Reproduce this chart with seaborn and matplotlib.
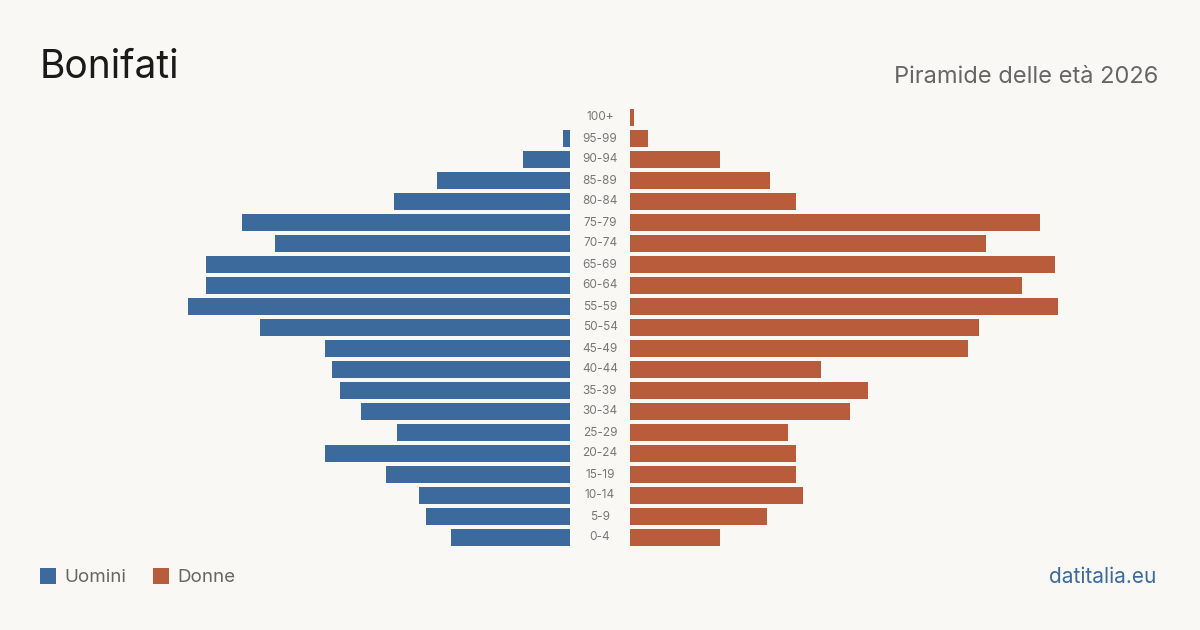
import matplotlib
matplotlib.use("Agg")
import matplotlib.pyplot as plt
import matplotlib.transforms as mtransforms
from matplotlib.patches import Rectangle
import seaborn as sns
import pandas as pd

# age classes, top to bottom
ages = ["100+", "95-99", "90-94", "85-89", "80-84", "75-79", "70-74", "65-69",
        "60-64", "55-59", "50-54", "45-49", "40-44", "35-39", "30-34", "25-29",
        "20-24", "15-19", "10-14", "5-9", "0-4"]
uomini = [0, 2, 13, 37, 49, 91, 82, 101, 101, 106, 86, 68, 66, 64, 58, 48, 68, 51, 42, 40, 33]
donne = [1, 5, 25, 39, 46, 114, 99, 118, 109, 119, 97, 94, 53, 66, 61, 44, 46, 46, 48, 38, 25]

title = "Bonifati"
subtitle = "Piramide delle età 2026"
source = "datitalia.eu"

BG = "#faf8f4"
BLUE = "#3c6a9c"
ORANGE = "#b95c3c"

sns.set_style("white")
plt.rcParams["font.family"] = ["Inter", "DejaVu Sans"]

df = pd.DataFrame({"age": ages, "uomini": uomini, "donne": donne})

fig = plt.figure(figsize=(12, 6.3), dpi=100, facecolor=BG)

W, H = 1200, 630
xmax = 440 / 3.6
ax_l = fig.add_axes([130 / W, 82 / H, 440 / W, 441 / H])
ax_r = fig.add_axes([630 / W, 82 / H, 440 / W, 441 / H])

sns.barplot(data=df, x="uomini", y="age", orient="h", color=BLUE, width=0.81,
            saturation=1, linewidth=0, ax=ax_l)
sns.barplot(data=df, x="donne", y="age", orient="h", color=ORANGE, width=0.81,
            saturation=1, linewidth=0, ax=ax_r)

ax_l.set_xlim(xmax, 0)
ax_r.set_xlim(0, xmax)
for ax in (ax_l, ax_r):
    ax.set_facecolor("none")
    ax.set_xlabel("")
    ax.set_ylabel("")
    ax.set_xticks([])
    ax.set_yticks([])
    sns.despine(ax=ax, left=True, bottom=True)

# age labels in the middle gap
trans = mtransforms.blended_transform_factory(fig.transFigure, ax_r.transData)
for i, a in enumerate(ages):
    fig.text(600 / W, i, a, transform=trans, ha="center", va="center",
             fontsize=8.5, color="#777777")

fig.text(40 / W, 1 - 67 / H, title, fontsize=28, color="#1a1a1a", va="center", ha="left")
fig.text(1158 / W, 1 - 77 / H, subtitle, fontsize=17, color="#666666", va="center", ha="right")

# legend
for x0, lab, col in [(40, "Uomini", BLUE), (153, "Donne", ORANGE)]:
    fig.patches.append(Rectangle((x0 / W, 1 - 584 / H), 16 / W, 16 / H,
                                 transform=fig.transFigure, facecolor=col, edgecolor="none"))
    fig.text((x0 + 24) / W, 1 - 577 / H, lab, fontsize=13.5, color="#666666", va="center", ha="left")

fig.text(1156 / W, 1 - 577 / H, source, fontsize=15, color="#3c6a9c", va="center", ha="right")

fig.savefig("out.png", dpi=100, facecolor=BG)
